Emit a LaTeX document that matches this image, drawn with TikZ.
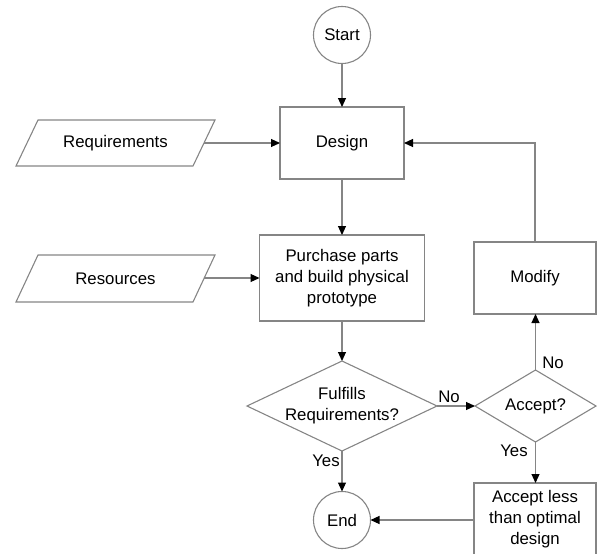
\documentclass[tikz,border=0pt]{standalone}
\usepackage{fontspec}
\setmainfont{Liberation Sans}
\usetikzlibrary{arrows.meta,shapes.geometric}
\definecolor{edge}{gray}{0.52}
\begin{document}
\begin{tikzpicture}[x=1pt,y=-1pt,
  font=\fontsize{16.8}{21}\selectfont,
  every node/.style={inner sep=0pt, outer sep=0pt},
  shapeline/.style={draw=edge, line width=1.1pt},
  procbox/.style={shapeline, fill=white, rectangle},
  termnode/.style={shapeline, circle, minimum size=57pt},
  decision/.style={shapeline, diamond},
  label/.style={align=center},
  flow/.style={draw=edge, line width=1.1pt,
    -{Triangle[length=9pt,width=8pt,fill=black,color=black]}},
  answer/.style={font=\fontsize{16.8}{21}\selectfont}
]
\useasboundingbox (0,0) rectangle (597,554);

% terminals
\node[termnode] (start) at (342,35) {Start};
\node[termnode] (end) at (342,520) {End};

% process boxes
\node[procbox, minimum width=124pt, minimum height=72pt] (design) at (342,143) {Design};
\node[procbox, minimum width=165pt, minimum height=86pt, label] (build) at (342,278)
  {Purchase parts\\and build physical\\prototype};
\node[procbox, minimum width=122pt, minimum height=72pt] (modify) at (535,278) {Modify};
\node[procbox, minimum width=122pt, minimum height=73pt, label] (less) at (535,519.5)
  {Accept less\\than optimal\\design};

% decisions
\node[decision, minimum width=190pt, minimum height=90pt] (fulfil) at (342,406) {};
\node[label] (fulfiltext) at (fulfil) {Fulfills\\Requirements?};
\node[decision, minimum width=121pt, minimum height=72pt] (accept) at (535.5,406) {};
\node[label] (accepttext) at (accept) {Accept?};

% data inputs (parallelograms)
\node[minimum width=177pt, minimum height=46pt] (req) at (115.5,143) {Requirements};
\draw[shapeline] ([xshift=11pt]req.north west) -- ([xshift=11pt]req.north east)
  -- ([xshift=-11pt]req.south east) -- ([xshift=-11pt]req.south west) -- cycle;
\node[minimum width=177pt, minimum height=47pt] (res) at (115.5,278.5) {Resources};
\draw[shapeline] ([xshift=11pt]res.north west) -- ([xshift=11pt]res.north east)
  -- ([xshift=-11pt]res.south east) -- ([xshift=-11pt]res.south west) -- cycle;

% connectors
\draw[flow] (start) -- (design);
\draw[flow] (req.east) -- (design.west);
\draw[flow] (design) -- (build);
\draw[flow] (res.east |- build.west) -- (build.west);
\draw[flow] (build) -- (fulfil.north);
\draw[flow] (fulfil.east) -- (accept.west);
\draw[flow] (fulfil.south) -- (end);
\draw[flow] (accept.north) -- (modify.south -| accept.north);
\draw[flow] (accept.south) -- (less.north -| accept.south);
\draw[flow] (less.west |- end.east) -- (end.east);
\draw[flow] (modify.north) |- (design.east);

% branch labels
\node[answer] (no1) at (449,397) {No};
\node[answer] (no2) at (553,363) {No};
\node[answer] (yes1) at (514,451) {Yes};
\node[answer] (yes2) at (326,461) {Yes};
\end{tikzpicture}
\end{document}
